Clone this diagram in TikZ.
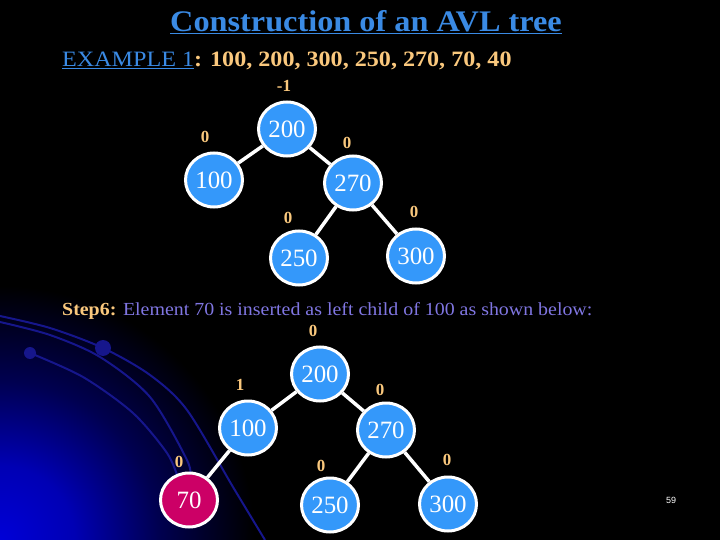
\documentclass[tikz,border=0pt]{standalone}
\usepackage{fontspec}
\setmainfont{Liberation Serif}
\setsansfont{Liberation Sans}
\usetikzlibrary{shapes.geometric}
\definecolor{titleblue}{RGB}{58,138,228}
\definecolor{orng}{RGB}{250,200,125}
\definecolor{violet2}{RGB}{128,118,226}
\definecolor{nodeblue}{RGB}{52,152,250}
\definecolor{nodered}{RGB}{204,0,102}
\definecolor{arcblue}{RGB}{22,22,140}
\definecolor{glowA}{RGB}{0,0,215}
\definecolor{glowB}{RGB}{0,0,180}
\definecolor{glowC}{RGB}{0,0,80}
\definecolor{glowD}{RGB}{0,0,0}
\pgfdeclareradialshading{cornerglow}{\pgfpoint{0bp}{0bp}}{color(0bp)=(glowA); color(7bp)=(glowB); color(15bp)=(glowC); color(24bp)=(glowD); color(50bp)=(glowD)}
\begin{document}
\begin{tikzpicture}[x=1bp,y=-1bp,
  tnode/.style={ellipse, draw=white, line width=3bp, fill=nodeblue, minimum width=57bp, minimum height=54bp, inner sep=0pt, text=white, font=\fontsize{25}{25}\selectfont},
  rnode/.style={tnode, fill=nodered},
  bal/.style={text=orng, font=\bfseries\fontsize{17}{17}\selectfont, inner sep=0pt},
  edge/.style={draw=white, line width=3.5bp},
  arcline/.style={draw=arcblue, line width=2bp},
  arcdot/.style={fill=arcblue}]
\useasboundingbox (0,0) rectangle (720,540);
\fill[black] (0,0) rectangle (720,540);
\begin{scope}
  \clip (0,0) rectangle (720,540);
  \shade[shading=cornerglow] (0,540) circle (265);
  \draw[arcline] plot[smooth] coordinates {(0,316) (50,328) (103,348) (150,375) (187,410) (233,487) (265,540)};
  \draw[arcline] plot[smooth] coordinates {(0,322) (50,335) (100,357) (150,397) (187,460) (190,478)};
  \draw[arcline] plot[smooth] coordinates {(30,353) (83,377) (133,413) (167,453) (178,478)};
  \fill[arcdot] (103,348) circle (8);
  \fill[arcdot] (30,353) circle (6);
\end{scope}

% headings
\node[text=titleblue, font=\bfseries\fontsize{30}{32}\selectfont, inner sep=0pt] (title) at (366,22) {\scalebox{1.08}[1]{\underline{Construction of an AVL tree}}};
\node[anchor=west, font=\fontsize{22}{24}\selectfont, inner sep=0pt] (example) at (62,61) {\scalebox{1.1}[1]{\textcolor{titleblue}{\underline{EXAMPLE 1}}\textcolor{orng}{\bfseries: 100, 200, 300, 250, 270, 70, 40}}};
\node[anchor=west, font=\fontsize{18.5}{20}\selectfont, inner sep=0pt] (step) at (62,311) {\scalebox{1.08}[1]{\textcolor{orng}{\bfseries Step6:} \textcolor{violet2}{Element 70 is inserted as left child of 100 as shown below:}}};

% top tree
\node[tnode] (a200) at (287,129) {200};
\node[tnode] (a100) at (214,180) {100};
\node[tnode] (a270) at (353,183) {270};
\node[tnode] (a250) at (299,258) {250};
\node[tnode] (a300) at (416,256) {300};
\node[bal] (ba200) at (284,86) {-1};
\node[bal] (ba100) at (205,137) {0};
\node[bal] (ba270) at (347,143) {0};
\node[bal] (ba250) at (288,218) {0};
\node[bal] (ba300) at (414,212) {0};

% bottom tree
\node[tnode] (b200) at (320,374) {200};
\node[tnode] (b100) at (248,428) {100};
\node[tnode] (b270) at (386,430) {270};
\node[rnode] (b70) at (189,500) {70};
\node[tnode] (b250) at (330,505) {250};
\node[tnode] (b300) at (448,504) {300};
\node[bal] (bb200) at (313,331) {0};
\node[bal] (bb100) at (240,385) {1};
\node[bal] (bb270) at (380,390) {0};
\node[bal] (bb70) at (179,462) {0};
\node[bal] (bb250) at (321,466) {0};
\node[bal] (bb300) at (447,460) {0};

% edges (drawn between node borders)
\draw[edge] (a200) -- (a100);
\draw[edge] (a200) -- (a270);
\draw[edge] (a270) -- (a250);
\draw[edge] (a270) -- (a300);
\draw[edge] (b200) -- (b100);
\draw[edge] (b200) -- (b270);
\draw[edge] (b100) -- (b70);
\draw[edge] (b270) -- (b250);
\draw[edge] (b270) -- (b300);

\node[text=white, font=\sffamily\fontsize{9}{9}\selectfont, inner sep=0pt] (page) at (671,500) {59};
\end{tikzpicture}
\end{document}
